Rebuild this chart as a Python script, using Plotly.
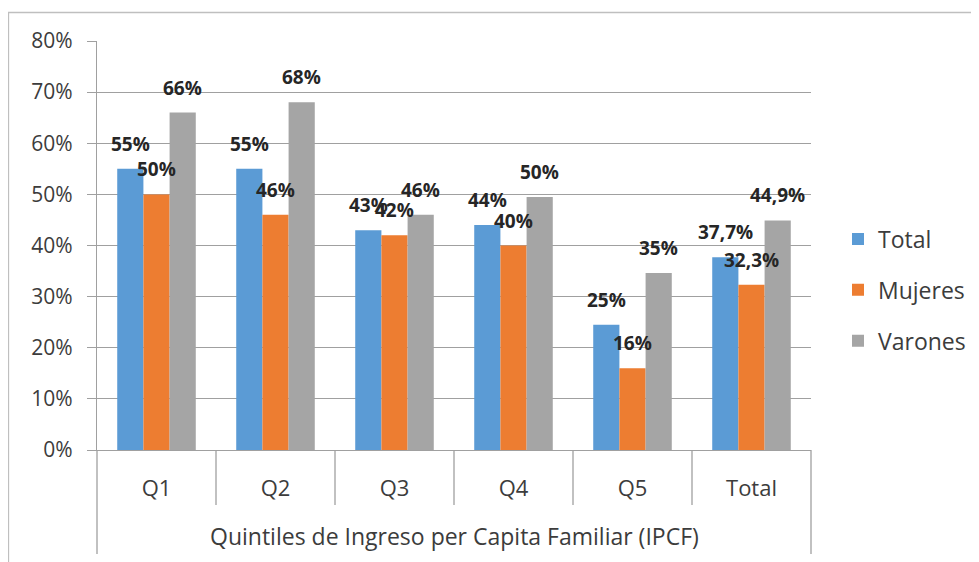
import plotly.graph_objects as go

categories = ["Q1", "Q2", "Q3", "Q4", "Q5", "Total"]
series_names = ["Total", "Mujeres", "Varones"]
total_vals = [55, 55, 43, 44, 24.5, 37.7]
mujeres_vals = [50, 46, 42, 40, 16, 32.3]
varones_vals = [66, 68, 46, 49.5, 34.6, 44.9]
total_labels = ["55%", "55%", "43%", "44%", "25%", "37,7%"]
mujeres_labels = ["50%", "46%", "42%", "40%", "16%", "32,3%"]
varones_labels = ["66%", "68%", "46%", "50%", "35%", "44,9%"]
y_ticks = [0, 10, 20, 30, 40, 50, 60, 70, 80]
y_tick_labels = ["0%", "10%", "20%", "30%", "40%", "50%", "60%", "70%", "80%"]
x_title = "Quintiles de Ingreso per Capita Familiar (IPCF)"

colors = ["#5B9BD5", "#ED7D31", "#A5A5A5"]
FONT = "Open Sans"
TXT = "#3c3c3c"
OFF = 8  # page body margin
W, H = 979, 562
# screen coordinates of plot area
SX0, SX1, SY0, SY1 = 97, 811, 41, 450
L = SX0 - OFF
R = W - (SX1 - OFF)
T = SY0 - OFF
B = H - (SY1 - OFF)
plot_w = W - L - R
plot_h = H - T - B


def px(sx):
    return (sx - SX0) / plot_w


def py(sy):
    return (SY1 - sy) / plot_h


values = [total_vals, mujeres_vals, varones_vals]
labels = [total_labels, mujeres_labels, varones_labels]

fig = go.Figure()
for name, vals, col in zip(series_names, values, colors):
    fig.add_trace(go.Bar(x=categories, y=vals, name=name, marker_color=col,
                         marker_line_width=0, legendgroup=name))

bargap = 0.34
group_w = 1 - bargap
bar_w = group_w / 3
px_per_cat = plot_w / len(categories)
annotations = []
for si, labs in enumerate(labels):
    offset_px = (-group_w / 2 + bar_w * (si + 0.5)) * px_per_cat
    for ci, cat in enumerate(categories):
        annotations.append(dict(x=cat, y=values[si][ci], text="<b>" + labs[ci] + "</b>",
                                showarrow=False, xshift=offset_px, yshift=25,
                                yanchor="middle",
                                font=dict(family=FONT, size=19, color="#262626"),
                                xref="x", yref="y"))
annotations.append(dict(x=0.5, y=py(536), xref="paper", yref="paper",
                        text=x_title, showarrow=False, yanchor="middle",
                        font=dict(family=FONT, size=23, color=TXT)))

shapes = []
line_col = "#A0A0A0"
# inner category dividers
for i in range(1, len(categories)):
    shapes.append(dict(type="line", xref="x", yref="paper", x0=i - 0.5, x1=i - 0.5,
                       y0=0, y1=py(505), line=dict(color=line_col, width=1.3)))
# outer edges
for xp in [0, 1]:
    shapes.append(dict(type="line", xref="paper", yref="paper", x0=xp, x1=xp,
                       y0=0, y1=py(554), line=dict(color=line_col, width=1.3)))
# chart border
shapes.append(dict(type="rect", xref="paper", yref="paper",
                   x0=px(8.5), x1=px(1000), y0=py(620), y1=py(12.5),
                   line=dict(color="#BFBFBF", width=1.3), fillcolor="rgba(0,0,0,0)",
                   layer="below"))

fig.update_layout(
    width=W, height=H,
    margin=dict(l=L, r=R, t=T, b=B, pad=0),
    paper_bgcolor="white", plot_bgcolor="white",
    barmode="group", bargap=bargap, bargroupgap=0,
    font=dict(family=FONT, size=18, color=TXT),
    showlegend=True,
    legend=dict(x=px(838), y=py(290), xanchor="left", yanchor="middle",
                font=dict(family=FONT, size=23, color=TXT),
                tracegroupgap=18, traceorder="grouped", itemwidth=30),
    annotations=annotations,
    shapes=shapes,
)
fig.update_xaxes(type="category", range=[-0.5, len(categories) - 0.5],
                 showline=True, linecolor=line_col, linewidth=1.3,
                 ticks="", showgrid=False, ticklabelstandoff=18,
                 tickfont=dict(family=FONT, size=22, color=TXT))
fig.update_yaxes(range=[0, 80], tickvals=y_ticks, ticktext=y_tick_labels,
                 showgrid=True, gridcolor=line_col, gridwidth=1.3,
                 showline=True, linecolor=line_col, linewidth=1.3,
                 ticks="outside", ticklen=9, tickcolor=line_col, tickwidth=1.3,
                 zeroline=False, ticklabelstandoff=10,
                 tickfont=dict(family=FONT, size=21, color=TXT))

fig.write_html("out.html")
